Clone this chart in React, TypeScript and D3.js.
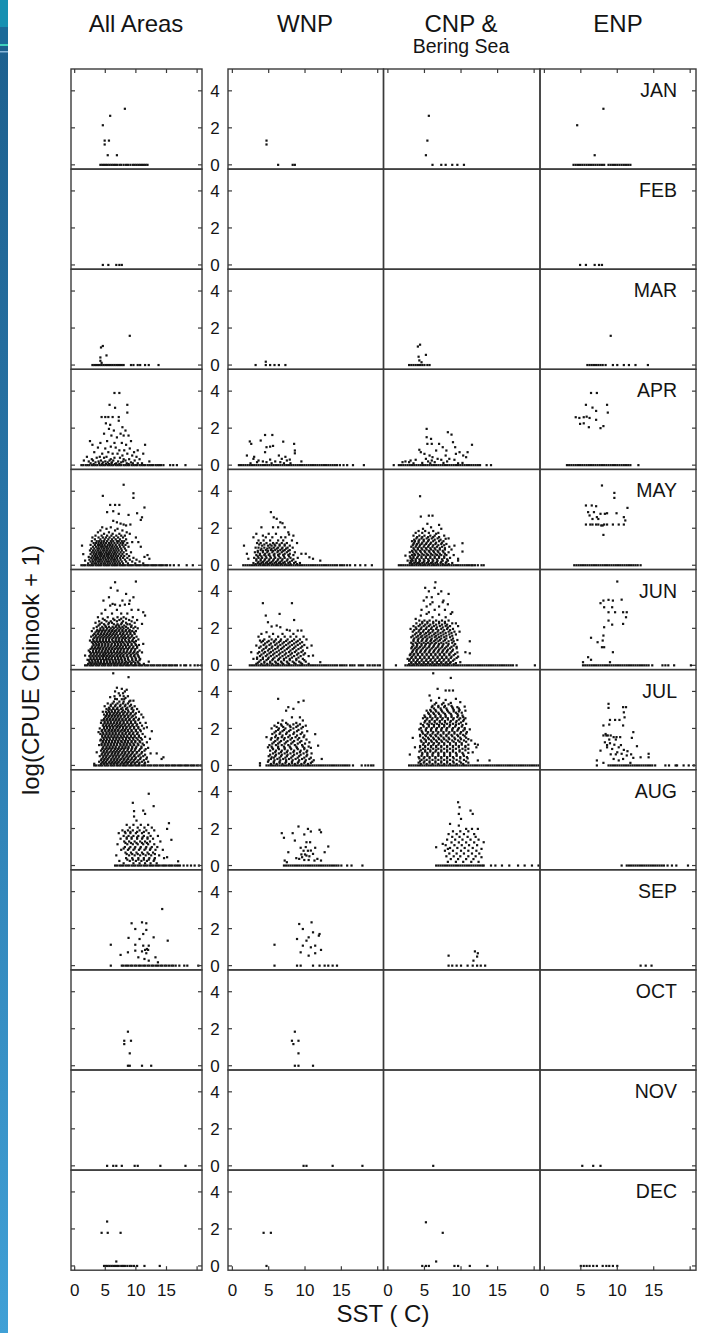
import React from "react";
import * as d3 from "d3";

// Column headings and row (month) labels
const AREAS = ["All Areas", "WNP", "CNP &", "ENP"];
const AREA_SUB = ["", "", "Bering Sea", ""];
const MONTHS = ["JAN", "FEB", "MAR", "APR", "MAY", "JUN", "JUL", "AUG", "SEP", "OCT", "NOV", "DEC"];
const X_TICKS = [0, 5, 10, 15, 20];
const X_TICK_LABELS = [0, 5, 10, 15];
const Y_TICKS = [0, 2, 4];

// Observations per panel, one string per month.
// Format: groups "logCPUE:sst sst sst ..." separated by ";".
const ALL_AREAS = [
  "0:4.2 4.5 4.8 5.1 5.4 5.7 6.0 6.3 6.6 6.9 7.3 7.6 8.0 8.4 8.7 9.1 9.5 9.8 10.1 10.4 10.7 11.0 11.3 11.6 11.9;0.52:5.4 6.9;1.1:4.9;1.31:4.9 5.6;2.14:4.6;2.65:5.8;3.03:8.2",
  "0:4.6 5.5 6.8 7.3 7.7",
  "0:2.9 3.2 3.5 3.8 4.1 4.4 4.7 5.0 5.3 5.6 5.9 6.2 6.5 6.8 7.1 7.4 7.7 8.0 9.2 9.6 10.3 10.7 11.5 12.1 13.7;0.12:4.4;0.23:4.2;0.41:4.2;0.52:5.2;0.95:4.3;1.03:4.6;1.58:9.0",
  "0:1.1 1.4 1.8 2.1 2.4 2.8 3.1 3.4 3.7 4.1 4.4 4.7 5.0 5.4 5.7 6.0 6.3 6.7 7.0 7.3 7.6 8.0 8.3 8.6 8.9 9.3 9.6 9.9 10.2 10.6 10.9 11.2 11.5 11.9 12.2 12.5 12.8 13.2 13.5 13.8 14.1 14.5 15.6 16.1 16.7 18.1;0.06:3.1 4.5 5.1 5.6 6.6 7.3 8.8;0.1:2.6 4.0 6.0 6.8 8.5 9.5 10.3 11.0;0.15:3.4 4.6 5.4 6.1 7.6 9.2;0.2:2.3 3.9 5.0 7.1 7.9 12.2;0.25:1.5 3.0 4.3 5.7 6.3 8.3 9.8;0.32:2.8 5.9 8.0 8.9 10.6;0.4:3.6 4.8 6.5 7.4;0.45:2.0 4.1 5.2 10.1;0.52:7.8 9.4;0.62:4.5 6.2 7.0 8.6 11.2;0.7:3.2 5.5 9.7;0.8:7.3 8.1 10.3;0.9:5.0 9.0;0.95:3.8 6.7;1.0:5.9;1.1:2.9 8.4 11.5;1.2:4.2 6.5 7.7;1.3:2.5 5.3 9.2;1.5:6.9;1.6:6.0 8.0 8.8;1.7:4.8 7.5;1.87:6.4 8.3;1.96:5.6;2.05:7.8;2.18:5.8;2.26:5.1;2.4:7.2;2.6:4.4 5.0 5.5 6.2 7.2;2.84:8.6;3.1:6.6;3.26:5.7 8.6;3.9:6.5 7.3",
  "0:1.1 1.4 1.7 2.1 2.4 2.7 3.0 3.4 3.7 4.0 4.3 4.7 5.0 5.3 5.6 6.0 6.3 6.6 6.9 7.3 7.6 7.9 8.2 8.6 8.9 9.2 9.5 9.9 10.2 10.5 10.8 11.2 11.5 11.8 12.1 12.5 12.8 13.1 13.4 13.8 14.1 14.4 14.8 15.1 15.6 16.2 17.0 18.3 19.3;0.1:2.2 2.8 3.2 3.5 3.9 4.3 4.7 5.0 5.4 5.8 6.2 6.6 7.0 7.4 7.9 8.7 9.9 11.2;0.2:2.6 3.0 3.4 3.8 4.1 4.5 4.9 5.3 5.6 6.0 6.4 6.8 7.2 7.7 8.4 9.4 10.6;0.25:1.7;0.3:2.4 2.9 3.3 3.6 4.0 4.3 4.7 5.1 5.5 5.9 6.3 6.6 7.0 7.5 8.2 9.0 10.1;0.35:12.2;0.4:2.7 3.1 3.5 3.8 4.2 4.6 5.0 5.4 5.7 6.1 6.5 6.9 7.4 7.9 8.6 9.6;0.45:2.3 11.4;0.5:2.9 3.3 3.7 4.1 4.4 4.8 5.2 5.5 5.9 6.3 6.7 7.1 7.6 8.1 8.9;0.55:11.9;0.6:1.4 2.6 3.1 3.5 3.9 4.2 4.5 4.9 5.3 5.6 6.0 6.4 6.8 7.3 7.8 8.5;0.7:2.8 3.2 3.6 4.0 4.3 4.7 5.1 5.5 5.8 6.2 6.6 7.0 7.5 8.0 9.2;0.8:2.5 3.0 3.4 3.8 4.2 4.6 4.9 5.3 5.7 6.0 6.4 6.8 7.2 7.7 8.4;0.9:2.7 3.2 3.7 4.0 4.4 4.8 5.2 5.5 5.9 6.3 6.7 7.1 7.6 8.2;1.0:3.0 3.5 3.9 4.3 4.6 5.0 5.3 5.7 6.1 6.5 6.9 7.4 8.0 8.8 10.8;1.06:1.2;1.1:2.6 3.3 3.8 4.1 4.5 4.9 5.4 5.8 6.2 6.7 7.3 7.8 8.3;1.2:3.1 3.5 3.9 4.3 4.7 5.1 5.6 6.0 6.5 7.0 7.5 7.9 8.6;1.25:9.4 10.4;1.3:2.8 3.6 4.0 4.4 4.8 5.3 5.9 6.3 6.9 7.2 7.7 8.1;1.4:3.3 4.2 4.9 5.5 6.1 6.7 7.4 8.4;1.5:2.9 3.9 4.6 5.1 5.7 6.4 7.1 7.9 10.0;1.6:3.4 4.4 5.3 6.0 6.8 7.6 8.2;1.7:4.8 6.2 7.3 9.0;1.78:3.8 5.6 8.5;1.88:4.2 6.6 7.8;1.97:5.2 7.0;2.05:4.5 5.9;2.15:8.4;2.2:8.0 9.1;2.25:7.5;2.32:6.9;2.4:6.3;2.45:10.8;2.59:11.0;2.72:8.8;2.78:7.2;2.81:10.2;2.87:5.3;2.92:6.3;3.12:11.4;3.26:5.8 6.6 7.3;3.64:9.6;3.75:4.6;3.89:9.6;4.35:8.0",
  "0:1.7 2.0 2.4 2.7 3.0 3.4 3.7 4.0 4.4 4.7 5.0 5.4 5.7 6.0 6.4 6.7 7.0 7.4 7.7 8.0 8.4 8.7 9.0 9.4 9.7 10.0 10.4 10.7 11.0 11.4 11.7 12.0 12.4 12.7 13.0 13.4 13.7 14.0 14.4 14.7 15.0 15.4 15.7 16.0 16.4 16.7 17.3 17.9 18.2 18.9 19.6 20.1 20.7;0.08:2.2 2.7 3.2 3.6 4.1 4.6 5.0 5.5 6.0 6.5 7.0 7.5 8.1 8.6 9.2 9.9 10.6 11.3;0.2:2.4 2.9 3.4 3.8 4.3 4.8 5.3 5.8 6.3 6.8 7.3 7.8 8.4 9.0 9.6 10.3 12.1;0.3:2.1;0.35:2.6 3.1 3.6 4.1 4.6 5.1 5.5 6.0 6.6 7.1 7.6 8.2 8.7 9.4 10.0 10.7;0.5:2.4 2.9 3.4 3.9 4.4 4.8 5.3 5.8 6.3 6.9 7.4 7.9 8.5 9.1 9.7 10.4;0.53:1.7;0.65:2.7 3.2 3.7 4.2 4.7 5.1 5.6 6.1 6.7 7.2 7.7 8.3 8.9 9.5 10.1;0.7:11.0;0.8:2.3 3.0 3.5 4.0 4.5 5.0 5.4 5.9 6.4 7.0 7.5 8.0 8.6 9.2 9.8 10.6;0.95:2.8 3.3 3.8 4.2 4.7 5.2 5.7 6.2 6.8 7.3 7.8 8.4 8.9 9.5 10.2;1.1:3.1 3.6 4.0 4.5 5.0 5.5 6.0 6.6 7.1 7.6 8.2 8.7 9.3 10.0 10.5;1.16:11.2;1.25:2.8 3.3 3.8 4.3 4.8 5.3 5.8 6.4 6.9 7.4 7.9 8.5 9.0 9.7;1.34:2.5;1.4:3.0 3.6 4.1 4.6 5.1 5.6 6.1 6.7 7.2 7.7 8.2 8.8 9.5 10.4;1.55:2.7 3.4 3.9 4.4 4.9 5.4 5.9 6.5 7.0 7.6 8.1 8.7 9.3 10.1;1.7:3.2 3.8 4.3 4.8 5.3 5.8 6.3 6.8 7.4 7.9 8.5 9.1 9.8;1.85:2.8 3.6 4.0 4.5 5.0 5.6 6.1 6.6 7.2 7.8 8.3 8.9 9.4 10.0;2.0:3.1 4.2 4.7 5.3 5.9 6.4 7.0 7.5 8.0 8.7 9.6 10.3;2.15:3.9 5.0 6.8 7.2 8.1 9.3;2.24:11.0;2.3:3.4 4.4 5.6 6.1 7.7 8.4 9.8;2.45:4.9 6.5 7.3 8.9 10.2;2.6:3.8 5.4 7.0 8.0 9.5;2.69:11.5;2.8:4.4 6.1 7.6 8.6;2.87:11.2;3.0:5.0 6.9 9.3 10.4;3.23:5.8 7.4;3.28:6.6 8.2;3.32:6.2 8.9;3.5:4.7 7.8 9.0;3.68:5.6 9.6;3.86:8.4;4.04:7.0;4.19:5.9;4.49:6.6;4.53:10.0;0.14:2.5 2.9 3.4 3.9 4.3 4.8 5.3 5.8 6.3 6.7 7.2 7.7 8.2 8.7 9.3 9.9 10.4;0.28:2.3 2.8 3.3 3.8 4.3 4.8 5.2 5.7 6.2 6.7 7.2 7.7 8.2 8.8 9.4 10.0 10.6;0.43:2.6 3.1 3.6 4.1 4.6 5.1 5.6 6.1 6.6 7.1 7.6 8.1 8.7 9.3 9.9 10.5;0.58:2.6 3.1 3.6 4.1 4.6 5.0 5.5 6.0 6.5 7.0 7.5 8.0 8.6 9.2 9.8 10.3;0.72:2.5 3.0 3.5 3.9 4.4 4.9 5.4 5.9 6.4 6.9 7.4 8.0 8.5 9.1 9.7 10.3;0.88:2.6 3.1 3.6 4.1 4.6 5.1 5.6 6.1 6.6 7.1 7.6 8.1 8.7 9.3 9.9;1.02:2.9 3.4 3.9 4.4 4.9 5.4 5.9 6.4 6.9 7.4 7.9 8.4 9.0 9.6 10.2;1.18:3.0 3.5 4.0 4.5 5.0 5.5 6.1 6.6 7.1 7.6 8.1 8.7 9.3 9.9;1.32:3.1 3.6 4.1 4.6 5.1 5.6 6.2 6.7 7.2 7.7 8.3 8.9 9.4 10.0;1.48:3.2 3.7 4.2 4.7 5.2 5.7 6.3 6.8 7.3 7.9 8.4 9.0 9.7;1.62:3.0 3.5 4.1 4.6 5.1 5.6 6.1 6.6 7.1 7.7 8.2 8.8 9.4;1.78:3.4 3.9 4.4 4.9 5.4 5.9 6.4 6.9 7.5 8.0 8.6 9.1 9.7;1.92:3.7 4.2 4.7 5.2 5.7 6.2 6.8 7.3 7.8 8.4 9.0;2.08:3.6 4.5 5.1 5.6 6.2 6.7 7.3 7.8 8.4 9.2 9.9;2.22:4.1 4.8 5.5 6.4 7.0 7.6 8.6 9.0;2.38:4.0 5.2 5.9 6.9 7.9 9.3;2.52:4.6 6.3 7.6 8.4",
  "0:3.2 3.5 3.9 4.2 4.5 4.9 5.2 5.5 5.9 6.2 6.5 6.9 7.2 7.5 7.9 8.2 8.5 8.9 9.2 9.5 9.9 10.2 10.5 10.9 11.2 11.5 11.9 12.2 12.5 12.9 13.2 13.5 13.9 14.2 14.5 14.9 15.2 15.5 15.9 16.2 16.5 16.9 17.2 17.5 17.9 18.2 18.5 18.9 19.2 19.5 19.9 20.2 20.6;0.09:3.2 4.3 4.8 5.3 5.9 6.4 6.9 7.5 8.0 8.6 9.2 9.8 10.5 11.4;0.2:4.0 4.6 5.1 5.7 6.2 6.7 7.2 7.8 8.4 8.9 9.5 10.2 11.0 12.0;0.35:4.4 4.9 5.4 6.0 6.5 7.0 7.6 8.1 8.7 9.3 9.9 10.7 11.7 14.2;0.44:14.5;0.5:4.1 4.7 5.2 5.8 6.3 6.8 7.3 7.9 8.5 9.0 9.7 10.4 11.2;0.65:4.5 5.0 5.5 6.1 6.6 7.1 7.7 8.2 8.8 9.4 10.1 10.9 12.4 13.4;0.71:3.6;0.8:4.3 4.8 5.3 5.9 6.4 6.9 7.4 8.0 8.6 9.2 9.8 10.5 11.4;0.95:4.6 5.2 5.7 6.2 6.7 7.2 7.8 8.3 8.8 9.4 10.0 10.9 12.0;1.1:4.0 4.4 4.9 5.4 5.9 6.4 6.9 7.5 8.0 8.5 9.1 9.7 10.4 11.3;1.25:4.6 5.1 5.6 6.1 6.6 7.1 7.7 8.2 8.7 9.3 9.9 10.7 11.8;1.35:4.2;1.4:4.3 4.8 5.3 5.8 6.3 6.8 7.3 7.9 8.4 9.0 9.6 10.3 11.0;1.44:12.3;1.55:4.5 5.0 5.5 6.0 6.5 7.0 7.6 8.1 8.6 9.2 9.8 10.5 11.5;1.7:4.2 4.7 5.2 5.7 6.2 6.7 7.2 7.8 8.3 8.9 9.5 10.2 11.1;1.8:3.9;1.85:4.4 5.0 5.5 6.0 6.5 7.0 7.5 8.1 8.7 9.3 10.0 10.8 12.6;2.0:4.1 4.8 5.3 5.8 6.3 6.8 7.3 7.9 8.4 9.0 9.7 10.4 11.3;2.06:11.8;2.15:4.6 5.1 5.6 6.1 6.6 7.1 7.6 8.2 8.8 9.4 10.1 11.0;2.3:4.3 4.9 5.4 5.9 6.4 6.9 7.4 8.0 8.6 9.2 9.9 10.7 11.6;2.43:4.4;2.45:4.7 5.2 5.7 6.2 6.7 7.2 7.8 8.3 8.9 9.6 10.4;2.6:5.0 5.5 6.0 6.5 7.0 7.5 8.1 8.7 9.3 10.0 11.2;2.75:4.8 5.3 5.8 6.3 6.8 7.3 7.9 8.5 9.1 9.8 10.9;2.9:4.6 5.1 5.6 6.1 6.6 7.1 7.7 8.2 8.8 9.5 10.5;3.05:5.2 5.7 6.3 6.9 7.6 8.4 9.3 10.2;3.2:4.9 5.9 6.6 7.4 8.2 9.0 9.8;3.35:5.4 6.2 7.0 7.9 8.7;3.5:9.1 9.6;3.6:6.6;3.65:8.3;3.69:5.8;3.78:7.4;4.09:8.5;4.14:7.7;4.2:6.9;4.77:8.8;4.98:6.3;0.15:4.5 5.0 5.6 6.1 6.6 7.1 7.7 8.2 8.7 9.3 9.9 10.6 11.5;0.28:4.3 4.8 5.3 5.9 6.4 6.9 7.4 8.0 8.5 9.1 9.7 10.4 11.3;0.43:4.6 5.1 5.6 6.2 6.7 7.2 7.8 8.3 8.8 9.4 10.0 10.8 11.8;0.58:4.4 4.9 5.4 6.0 6.5 7.0 7.5 8.1 8.6 9.2 9.8 10.6 11.5;0.72:4.7 5.2 5.7 6.2 6.7 7.2 7.8 8.3 8.9 9.5 10.2 11.0;0.88:4.5 5.0 5.5 6.0 6.6 7.1 7.6 8.1 8.7 9.3 9.9 10.7 11.6;1.02:4.7 5.2 5.7 6.2 6.7 7.3 7.8 8.3 8.8 9.4 10.1 10.9;1.18:4.4 4.9 5.4 5.9 6.4 6.9 7.4 8.0 8.5 9.0 9.6 10.3 11.1;1.32:4.6 5.1 5.6 6.1 6.6 7.1 7.6 8.2 8.7 9.3 9.9 10.6;1.48:4.7 5.2 5.7 6.3 6.8 7.3 7.8 8.4 8.9 9.5 10.1 10.8;1.62:4.5 5.0 5.5 6.0 6.5 7.0 7.5 8.0 8.6 9.2 9.8 10.5;1.78:4.6 5.2 5.7 6.2 6.7 7.3 7.8 8.4 9.0 9.6 10.3;1.92:4.5 5.0 5.6 6.1 6.6 7.1 7.7 8.2 8.7 9.3 10.0 10.7;2.08:4.8 5.3 5.8 6.3 6.9 7.4 7.9 8.5 9.1 9.7 10.4;2.22:4.7 5.2 5.7 6.2 6.8 7.3 7.8 8.3 8.9 9.5 10.2;2.38:4.9 5.4 5.9 6.5 7.0 7.5 8.0 8.6 9.2 9.9;2.52:4.8 5.3 5.8 6.3 6.8 7.3 7.8 8.4 9.0 9.7 10.5;2.68:5.1 5.6 6.1 6.6 7.1 7.6 8.2 8.8 9.5;2.82:5.3 5.8 6.4 6.9 7.4 8.0 8.6 9.2 10.0;2.98:5.5 6.0 6.6 7.2 7.9 8.7 9.6;3.12:5.6 6.3 7.0 7.8 8.6 9.4;3.28:5.9 6.7 7.5 8.3 9.2;3.45:6.4 7.3 8.0 8.9;3.58:6.9 7.7 8.1;3.74:6.5 8.0 8.7;3.9:7.2 7.9;4.0:6.6 8.2",
  "0:6.6 6.9 7.3 7.6 7.9 8.3 8.6 8.9 9.3 9.6 9.9 10.3 10.6 10.9 11.3 11.6 11.9 12.3 12.6 12.9 13.3 13.6 13.9 14.3 14.6 14.9 15.3 15.6 15.9 16.3 16.6 16.9 17.2 17.8 18.4 19.0 19.6 20.3;0.12:8.0 9.6 10.6 11.5 12.4 13.4;0.23:16.9;0.25:7.3 9.0 10.0 10.9 11.8 12.9;0.4:8.4 9.4 10.4 11.3 12.2 13.1 14.6;0.45:15.1;0.55:6.8 8.9 9.8 10.7 11.6 12.5 13.8;0.7:8.3 9.2 10.1 11.0 11.9 12.8;0.85:7.6 8.7 9.6 10.5 11.4 12.3 13.2 14.4;1.0:8.2 9.1 9.9 10.8 11.7 12.6 13.5;1.15:7.0 8.6 9.5 10.3 11.2 12.0 13.0;1.3:8.1 8.9 9.8 10.7 11.5 12.3 14.0;1.39:15.8;1.45:7.5 8.5 9.3 10.2 11.0 11.9 12.8;1.6:8.0 8.8 9.6 10.4 11.3 12.4 13.6;1.75:7.2 8.3 9.1 10.0 11.0 12.1;1.9:7.8 8.7 9.5 10.6 11.7 13.0;1.98:15.1;2.05:9.0 10.3 11.4 12.6;2.2:8.5 9.6 10.8 12.0;2.29:15.4;2.43:10.1;2.65:9.7;2.79:11.5;2.94:9.7;2.97:11.2;3.21:12.9;3.39:9.5;3.88:12.1;0.32:8.6 9.5 10.4 11.3 12.1 13.0;0.62:8.5 9.4 10.3 11.2 12.1 13.1;0.92:8.0 8.9 9.8 10.7 11.6 12.4;1.22:8.3 9.2 10.1 11.0 11.8;1.52:8.5 9.3 10.2 11.1 11.9;1.82:8.2 9.1 10.2 11.3",
  "0:5.9 7.7 8.0 8.4 8.7 9.1 9.4 9.8 10.1 10.5 10.8 11.2 11.5 11.9 12.2 12.6 12.9 13.3 13.6 14.0 14.3 14.7 15.0 15.4 15.8 16.1 16.5 17.1 17.9 18.4 20.2;0.18:13.6;0.27:12.1;0.36:11.4;0.45:10.4 13.2;0.58:7.5;0.67:11.7;0.72:8.7;0.77:11.0;0.81:9.9;0.85:11.5 12.0;0.9:11.8;1.08:11.2 12.1;1.13:5.9 9.9;1.35:15.2;1.44:10.6;1.5:8.8;1.53:12.9;1.71:11.2;1.93:11.7;1.98:9.9;2.29:9.3 11.7;2.34:11.0;3.06:14.3",
  "0:8.7 9.0 11.0 12.5;0.67:9.0;1.17:8.1;1.35:8.1 9.2;1.84:8.7",
  "0:5.3 6.3 6.8 7.7 9.8 10.3 14.0 18.1",
  "0:4.8 5.1 5.4 5.7 6.0 6.3 6.6 6.9 7.2 7.6 7.9 8.2 8.6 9.0 9.3 9.7 10.2 11.4 13.9;0.24:6.8;1.79:4.4 5.4 7.5;2.4:5.3",
];

const WNP = [
  "0:6.3 8.3 8.6;1.1:4.7;1.31:4.7",
  "",
  "0:3.2 4.6 5.2 5.8 6.4 7.3;0.18:4.6",
  "0:0.9 1.2 1.5 1.8 2.1 2.4 2.7 3.0 3.3 3.6 3.9 4.2 4.5 4.8 5.1 5.4 5.7 6.0 6.3 6.6 6.9 7.2 7.5 7.8 8.1 8.4 8.7 9.0 9.3 9.6 9.9 10.2 10.5 10.8 11.1 11.4 11.7 12.0 12.3 12.6 12.9 13.2 13.5 13.8 14.1 14.4 14.8 15.3 15.8 16.6 18.1;0.1:2.5 5.4 7.1 8.0;0.16:3.4 4.7 6.6;0.2:4.2 5.9 9.5;0.25:3.6 7.5;0.3:5.2 7.9;0.34:2.9 6.8;0.45:3.0 7.3;0.52:2.0 6.4;0.64:8.6;0.7:4.5;0.79:8.6;0.97:4.7;1.0:5.2;1.04:5.6;1.15:2.6 8.5;1.27:7.0;1.28:2.4;1.33:3.9;1.63:4.5 5.5",
  "0:1.5 1.8 2.1 2.4 2.7 3.0 3.3 3.6 3.9 4.2 4.5 4.8 5.1 5.4 5.7 6.0 6.3 6.6 6.9 7.2 7.5 7.8 8.1 8.4 8.7 9.0 9.3 9.6 9.9 10.2 10.5 10.8 11.1 11.4 11.7 12.0 12.3 12.6 12.9 13.2 13.5 13.8 14.1 14.4 14.8 15.1 15.4 15.8 16.2 16.9 17.6 18.3 19.2;0.12:2.9 3.5 4.0 4.6 5.2 5.8 6.4 7.0 7.7 8.5 9.3;0.25:3.3 3.9 4.4 5.0 5.6 6.2 6.8 7.5 8.2 12.1;0.35:2.2 11.1;0.4:3.0 3.6 4.1 4.7 5.3 5.9 6.6 7.2 8.0 9.0;0.43:10.6;0.55:3.3 3.8 4.4 5.0 5.7 6.3 7.0 7.7 8.4;0.62:2.0 9.5 10.1;0.7:3.1 3.5 4.2 4.8 5.5 6.2 6.8 7.5 8.6;0.82:3.9 4.6 5.3 5.9 6.6 7.2 7.9;0.95:3.2 3.6 4.4 5.1 5.7 6.3 6.9 7.6 8.3;1.06:1.6 4.1 4.9 5.4 5.9 6.5 7.2 7.9;1.2:3.4 3.9 4.7 5.6 6.1 6.8 7.5 8.9;1.34:3.6 4.3 5.2 6.3 7.0 8.2;1.51:2.9 4.6 5.5 6.7 7.3;1.6:4.2 8.4;1.66:7.8;1.7:3.3 5.0 6.0;1.78:7.7;2.05:4.0 5.6 6.3 7.2;2.27:6.9;2.32:6.6;2.51:6.1;2.59:5.7;2.87:5.3;0.06:3.2 3.8 4.3 4.9 5.5 6.1 6.7 7.3 8.0 8.9;0.18:3.6 4.2 4.8 5.4 6.0 6.6 7.2 7.9 8.7;0.32:3.3 3.9 4.5 5.1 5.7 6.3 6.9 7.6 8.4;0.48:3.5 4.0 4.6 5.2 5.8 6.4 7.1 7.8;0.62:3.8 4.5 5.1 5.8 6.5 7.2 7.9;0.78:3.5 4.2 4.9 5.6 6.3 7.0 7.7;0.9:4.0 4.8 5.4 6.1 6.8 7.4;1.12:3.7 4.4 5.2 5.8 6.5 7.2",
  "0:2.4 2.7 3.0 3.3 3.6 3.9 4.2 4.5 4.8 5.1 5.4 5.7 6.0 6.3 6.6 6.9 7.2 7.5 7.8 8.1 8.4 8.7 9.0 9.3 9.6 9.9 10.2 10.5 10.8 11.1 11.4 11.7 12.0 12.3 12.6 12.9 13.2 13.5 13.8 14.1 14.4 14.8 15.1 15.4 15.7 16.2 16.5 16.8 17.4 17.7 18.0 18.6 18.9 19.3 19.6 20.0 20.3;0.08:3.3 4.0 4.8 5.5 6.3 7.0 7.8 8.7 9.6 10.5;0.17:12.1;0.2:3.7 4.4 5.2 5.9 6.7 7.5 8.3 9.2 10.1;0.35:2.9 3.4 4.2 4.9 5.6 6.4 7.1 7.9 8.8 9.7;0.5:3.8 4.6 5.3 6.1 6.9 7.7 8.5 9.4 10.5;0.53:11.1;0.65:3.5 4.3 5.1 5.8 6.6 7.4 8.2 9.1 10.0;0.71:2.6;0.8:4.1 4.9 5.6 6.4 7.2 8.0 8.8 9.7;0.95:3.7 4.6 5.4 6.2 6.9 7.7 8.5 9.4 10.3;1.07:3.3 10.9;1.1:4.3 5.1 5.9 6.6 7.4 8.2 9.0 9.9;1.25:4.0 4.8 5.7 6.4 7.1 7.9 8.8 9.6;1.34:3.8;1.4:4.4 5.4 6.0 6.7 7.6 8.5 9.3 10.2;1.55:3.6 5.1 6.3 7.2 8.0 8.8 9.8;1.7:4.0 5.6 6.9 8.4;1.79:4.7;1.88:7.9 9.0 9.5;1.92:7.5;2.06:6.6;2.1:5.4;2.15:6.1;2.33:4.9;2.45:8.5;2.69:4.6;2.78:6.5;3.36:4.2 8.2;0.14:3.5 4.4 5.2 6.0 6.8 7.6 8.5 9.4;0.28:3.9 4.7 5.5 6.3 7.1 7.9 8.8 9.9;0.42:3.4 4.2 5.0 5.8 6.6 7.4 8.2 9.1;0.58:4.0 4.8 5.6 6.4 7.2 8.0 8.9 9.8;0.72:3.7 4.5 5.3 6.1 6.9 7.8 8.6 9.5;0.88:4.3 5.1 5.9 6.7 7.5 8.3 9.1;1.02:3.9 4.7 5.5 6.3 7.1 7.9 8.7 9.6;1.18:4.5 5.3 6.1 6.9 7.7 8.5 9.3;1.32:4.2 5.0 5.8 6.6 7.4 8.2 9.0",
  "0:3.8 4.7 5.0 5.3 5.6 5.9 6.2 6.5 6.8 7.1 7.4 7.7 8.0 8.3 8.6 8.9 9.2 9.5 9.8 10.1 10.4 10.7 11.0 11.3 11.6 11.9 12.2 12.5 12.8 13.1 13.4 13.7 14.0 14.3 14.6 14.9 15.2 15.5 15.8 16.1 16.6 17.8 18.3 18.7 19.1 19.4;0.08:5.3 6.1 6.9 7.8 8.6 9.5 10.4;0.12:3.8;0.2:4.9 5.7 6.5 7.4 8.2 9.1 10.0 11.0;0.35:5.3 6.2 7.0 7.8 8.7 9.6 10.6 12.3;0.44:5.4;0.5:5.0 5.9 6.7 7.5 8.3 9.2 10.2;0.65:5.6 6.4 7.2 8.0 8.9 9.8 10.9;0.8:5.2 6.0 6.8 7.6 8.5 9.4 10.3;0.95:5.5 6.3 7.2 8.0 8.9 9.9 10.8;0.98:4.9;1.07:11.8;1.1:5.1 6.0 6.8 7.7 8.6 9.6;1.25:5.7 6.5 7.4 8.3 9.3 10.6;1.4:5.3 6.2 7.1 8.0 9.0 10.2;1.53:4.7 5.9 6.8 7.7 8.7 9.8;1.69:11.4;1.7:5.5 6.5 7.4 8.4 9.4;1.85:6.0 6.9 7.8 8.9 10.3;2.0:5.4 6.4 7.3 8.4 9.5;2.15:5.8 6.8 7.9 9.0 10.1;2.3:6.3 7.4 8.8;2.43:6.9 9.7;2.6:8.2 9.3;2.96:7.4;3.06:8.4;3.15:7.7;3.42:9.1;3.5:9.8;3.6:6.3;0.14:5.7 6.5 7.3 8.2 9.0 9.9 10.8;0.28:5.0 5.8 6.6 7.4 8.3 9.2 10.1 11.2;0.42:5.7 6.5 7.3 8.1 9.0 9.9 10.8;0.58:5.2 6.0 6.8 7.6 8.5 9.4 10.3;0.72:5.9 6.7 7.5 8.4 9.3 10.2;0.88:5.6 6.4 7.2 8.1 9.0 9.9;1.02:5.4 6.3 7.1 7.9 8.8 9.7 10.5;1.18:5.5 6.3 7.2 8.1 9.0 10.0;1.32:5.9 6.7 7.6 8.5 9.5;1.48:5.4 6.3 7.2 8.2 9.2;1.62:6.0 6.9 7.9 8.9 9.9;1.78:5.8 6.6 7.5 8.5 9.6;1.92:6.3 7.1 8.0 9.1;2.08:6.1 7.0 8.0 8.8 9.7;2.22:6.7 7.6 8.4 9.3",
  "0:7.1 7.4 7.7 8.0 8.3 8.6 8.9 9.2 9.5 9.8 10.1 10.4 10.7 11.0 11.3 11.6 11.9 12.2 12.5 12.8 13.1 13.4 13.7 14.0 14.3 14.6 15.0 15.8 16.4 17.9;0.18:7.5;0.27:7.2 11.3 12.2;0.3:9.9 10.5;0.36:9.2 11.7;0.4:8.8;0.45:9.6;0.5:10.6;0.54:10.2;0.6:9.5 10.0;0.63:11.1;0.72:7.7 12.7;0.8:9.8 10.4;0.81:10.8;0.96:9.4 11.4;1.0:10.1;1.03:13.2;1.26:10.2 10.7;1.35:8.6;1.5:7.1;1.68:9.9;1.75:6.8 8.3;1.8:12.2;1.84:10.8;1.93:12.0;1.98:10.4;2.11:9.1",
  "0:5.8 8.9 9.4 11.1 12.0 12.7 13.2 13.8 14.4;0.54:10.5;0.67:11.4;0.72:9.4;0.85:12.2;0.99:10.8;1.08:9.7 11.4;1.13:5.8;1.35:10.2;1.44:8.9;1.53:10.5;1.62:11.9;1.71:12.0;1.8:11.1;1.98:9.7;2.25:9.2;2.34:10.9",
  "0:8.6 9.1 11.1;0.67:9.1;1.17:8.4;1.35:8.2 9.1;1.84:8.6",
  "0:9.8 10.2 13.8 17.9",
  "0:4.7;1.79:4.3 5.3",
];

const CNP_BERING = [
  "0:6.1 7.3 7.9 8.8 9.5 10.4;0.52:5.2;1.31:5.4;2.65:5.6",
  "",
  "0:2.9 3.2 3.5 3.8 4.1 4.4 4.7 5.0 5.4 5.7;0.15:4.6;0.25:4.3;0.45:4.2;0.55:5.2;1.0:4.1;1.1:4.4",
  "0:0.8 1.5 1.8 2.1 2.4 2.7 3.0 3.3 3.6 3.9 4.2 4.5 4.8 5.1 5.4 5.7 6.0 6.3 6.6 6.9 7.2 7.5 7.8 8.1 8.4 8.7 9.0 9.3 9.6 9.9 10.2 10.5 10.8 11.1 11.4 11.7 12.0 12.3 12.6 13.5 14.1;0.1:3.5 5.8 9.6;0.12:4.7 7.6 10.2;0.16:2.0 2.9 6.4;0.2:2.4 5.5 8.1;0.25:3.1 6.0;0.29:3.8 7.3 9.1;0.34:5.2 6.8 8.4;0.43:6.1 10.7;0.52:5.7 7.9 10.3;0.61:5.0 9.3;0.7:4.5 9.8 10.9;0.79:6.6 8.0;0.83:4.3;0.97:7.5 9.2;1.1:11.5;1.15:5.4 6.0 7.0;1.24:8.9;1.42:5.9;1.51:5.3;1.65:8.7;1.78:8.2;1.96:5.3",
  "0:1.5 1.8 2.1 2.4 2.7 3.0 3.3 3.6 3.9 4.2 4.5 4.8 5.1 5.4 5.7 6.0 6.3 6.6 6.9 7.2 7.5 7.8 8.1 8.4 8.7 9.0 9.3 9.6 9.9 10.2 10.5 10.8 11.1 11.4 11.6 11.9 12.3 12.8 13.1;0.12:3.0 3.6 4.1 4.7 5.3 5.9 6.5 7.2 7.9 8.8;0.25:2.7 3.1 3.4 3.8 4.4 5.0 5.6 6.2 6.8 7.5 8.2 9.6;0.35:9.6;0.4:3.1 3.5 4.0 4.6 5.2 5.8 6.4 7.0 7.7 8.5;0.52:2.4;0.55:3.3 3.7 4.3 4.9 5.5 6.1 6.7 7.3 8.0 9.0;0.7:3.0 3.4 3.9 4.5 5.1 5.7 6.3 6.9 7.6 8.3;0.74:10.2;0.85:3.6 4.1 4.7 5.3 5.9 6.5 7.1 7.8 8.7;1.0:3.2 3.8 4.3 4.9 5.5 6.1 6.7 7.4 8.4;1.06:9.1;1.15:3.5 4.0 4.6 5.2 5.8 6.5 7.3 8.0;1.19:10.2;1.3:3.3 3.7 4.2 4.9 5.5 6.2 7.0 7.6;1.43:7.9;1.45:3.9 4.6 5.3 6.0 6.8 8.3;1.6:3.5 4.3 5.0 5.8 6.4 7.7;1.7:6.6;1.75:3.8 4.7 5.6 6.9;1.85:4.2 5.1 6.2;1.97:4.8 7.3;2.05:5.9;2.18:7.0;2.24:5.4;2.63:4.5;2.68:5.6 6.1;3.73:4.4;0.06:3.3 3.9 4.4 5.0 5.6 6.2 6.8 7.5 8.3;0.18:3.2 3.8 4.3 4.9 5.5 6.1 6.7 7.3 8.0;0.32:3.3 3.8 4.3 4.9 5.5 6.1 6.7 7.4 8.1;0.48:3.0 3.5 4.1 4.6 5.2 5.8 6.4 7.0 7.7;0.62:3.6 4.1 4.7 5.3 5.9 6.5 7.1 7.8;0.78:3.3 3.8 4.4 5.0 5.6 6.2 6.8 7.5;0.92:3.5 4.1 4.6 5.2 5.8 6.4 7.1 7.8;1.08:3.4 3.9 4.4 5.0 5.6 6.2 6.9 7.7;1.22:3.6 4.2 4.7 5.3 5.9 6.6 7.4;1.38:3.6 4.3 4.9 5.6 6.4 7.2;1.52:4.0 4.7 5.5 6.2 7.0",
  "0:1.1 2.4 2.7 3.0 3.3 3.6 3.9 4.2 4.5 4.8 5.1 5.4 5.7 6.0 6.3 6.6 6.9 7.2 7.5 7.8 8.1 8.4 8.7 9.0 9.3 9.6 9.9 10.2 10.5 10.8 11.1 11.4 11.7 12.0 12.3 12.6 12.9 13.2 13.5 13.8 14.1 14.4 14.7 15.0 15.3 15.6 15.9 16.2 16.5 16.8 17.1 17.6 20.1;0.06:2.9 3.5 4.0 4.6 5.2 5.8 6.4 7.0 7.6 8.2 9.0;0.17:3.2 3.8 4.3 4.9 5.5 6.1 6.7 7.3 8.0 8.6 9.9;0.32:3.0 3.5 4.1 4.7 5.3 5.9 6.5 7.1 7.7 8.3 9.1;0.35:2.7;0.47:3.3 3.8 4.4 5.0 5.6 6.2 6.8 7.4 8.0 8.7 9.6;0.62:3.1 3.6 4.1 4.7 5.3 5.9 6.5 7.1 7.7 8.4 9.2;0.65:11.2;0.71:10.6;0.77:3.4 3.9 4.5 5.1 5.7 6.3 6.9 7.5 8.1 8.8;0.92:3.2 3.7 4.2 4.8 5.4 6.0 6.6 7.2 7.8 8.5 9.4;1.07:3.5 4.0 4.6 5.1 5.7 6.3 6.9 7.5 8.2 9.0;1.22:3.2 3.8 4.3 4.9 5.5 6.0 6.6 7.3 8.0 8.8;1.3:11.2;1.37:3.5 4.1 4.7 5.3 5.9 6.5 7.1 7.8 8.7 9.5;1.52:3.2 3.9 4.5 5.1 5.7 6.4 7.0 7.7 8.5;1.67:3.7 4.4 5.0 5.6 6.3 6.9 7.6 8.4 9.3;1.82:3.4 4.2 4.8 5.5 6.1 6.8 7.5 8.3 9.1 9.8;1.97:3.1 3.9 4.5 5.2 5.9 6.6 7.3 8.1 8.9;2.12:3.5 4.2 4.9 5.6 6.3 7.1 7.9 8.5 9.6;2.27:3.9 4.7 5.4 6.2 7.0 7.8 8.8 9.3;2.42:4.3 5.0 5.7 6.6 7.4 8.3;2.51:3.8;2.6:6.1 7.9;2.69:4.5;2.74:7.0;2.78:5.3 8.6;2.87:5.6 8.8;3.0:4.6 6.4 7.8;3.18:5.3 7.0;3.3:5.8 8.2;3.41:6.1 7.5;3.5:4.9 7.6;3.68:5.3 6.0;3.86:6.9 8.3;4.0:5.6 7.3;4.19:5.1 6.4;4.49:6.5;0.12:3.2 3.8 4.3 4.9 5.5 6.1 6.7 7.3 7.9 8.5 9.3;0.25:2.9 3.5 4.0 4.6 5.2 5.8 6.4 7.0 7.6 8.3 8.9;0.4:3.2 3.8 4.4 5.0 5.6 6.2 6.8 7.4 8.0 8.6 9.4;0.55:3.0 3.5 4.1 4.7 5.3 5.9 6.5 7.1 7.7 8.4 9.0;0.7:3.3 3.9 4.4 5.0 5.6 6.2 6.8 7.4 8.0 8.6 9.5;0.85:3.5 4.0 4.6 5.2 5.8 6.4 7.0 7.6 8.2 8.9;1.0:3.3 3.9 4.4 5.0 5.6 6.2 6.8 7.4 8.0 8.7 9.4;1.15:3.4 4.0 4.6 5.2 5.8 6.4 7.0 7.6 8.3 9.2;1.3:3.5 4.1 4.6 5.2 5.8 6.3 6.9 7.6 8.3 9.0;1.45:3.6 4.2 4.8 5.4 6.0 6.7 7.3 8.0 8.9;1.6:3.4 4.1 4.7 5.3 6.0 6.6 7.3 8.0 8.8;1.75:3.9 4.5 5.2 5.8 6.5 7.2 7.9 8.7;1.9:3.6 4.3 4.9 5.6 6.2 6.9 7.7 8.5;2.05:3.8 4.6 5.3 6.0 6.7 7.5 8.2;2.2:4.4 5.1 5.8 6.6 7.4 8.1;2.35:4.7 5.4 6.2 7.0 7.8",
  "0:2.9 3.2 3.5 3.8 4.1 4.4 4.7 5.0 5.3 5.6 5.9 6.2 6.5 6.8 7.1 7.4 7.7 8.0 8.3 8.6 8.9 9.2 9.5 9.8 10.1 10.4 10.7 11.0 11.3 11.6 11.9 12.2 12.5 12.8 13.1 13.4 13.7 14.0 14.3 14.6 14.9 15.2 15.5 15.8 16.1 16.4 16.7 17.0 17.3 17.6 17.9 18.2 18.5 18.8 19.1 19.4 19.7 20.0 20.3 20.6;0.15:4.2 4.9 5.7 6.5 7.3 8.1 9.0 10.0 11.0;0.27:12.3 13.9;0.3:4.6 5.3 6.1 6.9 7.7 8.5 9.4 10.4;0.45:4.2 5.0 5.7 6.5 7.3 8.1 8.9 9.9 10.8;0.59:3.0;0.6:4.7 5.4 6.1 6.9 7.7 8.5 9.4 10.3;0.71:11.6;0.75:4.3 5.1 5.8 6.5 7.3 8.1 8.9 9.8;0.9:4.8 5.5 6.2 6.9 7.7 8.5 9.3 10.2 11.0;0.98:3.7 12.1;1.05:4.4 5.1 5.9 6.6 7.3 8.1 8.9 9.7 10.6;1.12:12.3;1.17:11.9;1.2:4.9 5.6 6.3 7.0 7.7 8.5 9.3 10.1;1.35:4.5 5.2 5.9 6.6 7.3 8.0 8.8 9.6 10.4 11.4;1.49:3.4;1.5:4.8 5.5 6.2 6.9 7.6 8.3 9.1 9.9 10.7;1.65:4.4 5.1 5.8 6.5 7.2 8.0 8.7 9.5 10.3;1.8:4.7 5.5 6.2 6.9 7.6 8.4 9.1 10.0 10.8;1.95:4.3 5.2 5.9 6.6 7.3 8.0 8.8 9.6 10.5 11.2;2.1:4.9 5.6 6.3 7.0 7.7 8.4 9.2 10.1;2.25:4.5 5.4 6.0 6.7 7.4 8.1 8.9 9.7 10.7;2.4:5.1 5.7 6.4 7.1 7.8 8.6 9.4 10.3;2.55:4.8 5.4 6.1 6.8 7.5 8.2 9.0 9.9 10.6;2.7:5.0 5.8 6.5 7.2 7.9 8.7 9.6 10.2;2.85:5.5 6.2 6.9 7.6 8.4 9.3 10.1;2.96:5.3 10.6;3.0:5.8 6.5 7.3 8.1 9.0 9.8;3.15:6.0 6.9 7.7 8.8 9.5;3.18:10.5;3.3:6.4 7.4 8.3;3.42:9.9;3.51:5.9;3.54:7.9;3.6:9.3;3.65:7.0;3.78:5.7;4.05:7.9 8.4 8.9;4.14:6.8;4.73:8.6;4.98:6.2;0.08:4.5 5.3 6.1 6.9 7.7 8.5 9.4 10.3;0.22:4.4 5.0 5.7 6.5 7.3 8.1 8.9 9.8 10.7;0.38:4.3 4.9 5.7 6.5 7.3 8.1 9.0 9.9 10.9;0.52:4.6 5.4 6.1 6.9 7.7 8.5 9.4 10.4;0.68:4.7 5.4 6.2 6.9 7.7 8.5 9.3 10.2 11.0;0.82:4.5 5.1 5.8 6.6 7.3 8.1 8.9 9.8 10.6;0.98:4.4 5.1 5.9 6.6 7.3 8.1 8.9 9.7 10.6;1.12:4.8 5.5 6.2 6.9 7.7 8.5 9.3 10.1 11.0;1.28:4.6 5.2 6.0 6.7 7.4 8.2 9.0 9.8 10.7;1.42:5.0 5.6 6.3 7.0 7.7 8.4 9.2 10.0 11.0;1.58:4.4 5.2 5.9 6.6 7.3 8.0 8.8 9.6 10.5;1.72:4.8 5.4 6.1 6.8 7.6 8.3 9.1 9.9 10.7;1.88:4.6 5.2 5.9 6.6 7.3 8.0 8.8 9.5 10.3;2.02:4.5 5.3 6.0 6.7 7.4 8.1 8.9 9.7 10.5;2.18:4.8 5.6 6.3 7.0 7.7 8.5 9.3 10.2;2.32:5.0 5.7 6.4 7.1 7.8 8.5 9.3 10.0;2.48:5.3 6.0 6.7 7.4 8.2 8.9 9.7 10.4;2.62:5.1 5.8 6.5 7.2 7.9 8.7 9.5 10.3;2.78:5.6 6.3 7.0 7.8 8.6 9.5;2.92:5.9 6.6 7.4 8.2 9.0 9.7;3.08:6.3 7.2 8.0 8.9 9.7;3.22:6.1 6.9 7.8 8.7;3.38:6.6 7.6 8.6",
  "0:6.6 6.9 7.2 7.5 7.8 8.1 8.4 8.7 9.0 9.3 9.6 9.9 10.2 10.5 10.8 11.1 11.4 11.7 12.0 12.3 12.6 12.9 13.1 14.1 14.7 15.6 16.6 17.8 18.7 19.7 20.6;0.2:8.2 9.3 10.3 11.4 12.4;0.35:8.6 9.6 10.7 11.7;0.45:12.8;0.5:8.0 9.0 9.9 11.0 12.0;0.65:8.4 9.4 10.4 11.5 12.5;0.8:7.8 8.9 10.0 11.0 12.1;0.9:8.2 12.8;0.95:8.5 9.5 10.5 11.6;0.99:6.6;1.1:7.9 9.1 10.1 11.1 12.2;1.17:7.5;1.25:8.7 9.7 10.7 11.8;1.26:13.1;1.4:8.1 9.2 10.2 11.3 12.4;1.55:8.8 9.8 10.9 12.0;1.7:8.3 9.4 10.4 11.8;1.85:8.9 9.9 11.0;1.98:10.7 11.5 12.3;2.16:9.7;2.25:8.5;2.52:10.0;2.79:9.7 11.6;2.97:11.3;3.15:9.8;3.42:9.6",
  "0:8.3 8.8 9.4 10.0 10.9 11.6 12.2 12.7 13.3;0.27:11.7;0.49:12.2;0.54:8.3;0.67:12.3;0.77:11.9",
  "",
  "0:6.2",
  "0:4.7 5.2 5.6 9.1 9.6 11.2 13.6;0.24:6.6;1.79:7.5;2.36:5.2",
];

const ENP = [
  "0:4.0 4.3 4.6 4.9 5.2 5.5 5.8 6.1 6.4 6.7 7.0 7.3 7.6 7.9 8.2 8.8 9.1 9.4 9.7 10.0 10.3 10.6 10.9 11.2 11.5 11.8;0.52:6.9;2.14:4.5;3.03:8.1",
  "0:4.9 5.7 6.9 7.5 7.9",
  "0:5.9 6.2 6.5 6.8 7.1 7.4 7.7 8.0 8.4 9.4 10.0 10.9 11.6 12.5 14.2;1.58:9.1",
  "0:3.1 3.4 3.7 4.0 4.3 4.6 4.9 5.2 5.5 5.8 6.1 6.4 6.7 7.0 7.3 7.6 7.9 8.2 8.5 8.8 9.1 9.4 9.7 10.0 10.3 10.6 10.9 11.2 11.5 11.8 12.9;2.0:7.7;2.05:6.1;2.11:8.1;2.23:4.9;2.26:5.4;2.45:7.1;2.55:4.8 6.2;2.59:4.3 5.4;2.62:5.8;2.84:8.7;2.93:7.1;3.11:6.6;3.26:5.7 8.6;3.9:6.4 7.2",
  "0:4.1 4.4 4.7 5.0 5.3 5.6 5.9 6.2 6.5 6.8 7.1 7.4 7.7 8.0 8.3 8.6 8.9 9.2 9.5 9.8 10.1 10.4 10.7 11.0 11.3 11.6 11.9 12.2 12.5 12.8 13.2;1.64:8.1;2.15:7.8 8.0;2.2:5.7 6.3 6.6 7.1 7.4 8.2 8.6 9.4 10.2 10.9;2.42:11.1;2.5:6.6 7.4;2.6:7.2 10.9;2.69:6.2;2.78:7.7 8.3;2.81:8.6 9.9;2.87:6.0 6.8;3.1:11.4;3.19:7.1;3.23:5.7 6.5;3.64:9.6;3.91:9.6;4.31:7.9",
  "0:5.3 5.6 5.9 6.2 6.5 6.8 7.1 7.4 7.7 8.0 8.3 8.6 8.9 9.2 9.5 9.8 10.1 10.4 10.7 11.0 11.3 11.6 11.9 12.2 12.5 12.8 13.1 13.4 13.7 14.0 14.3 14.8 16.2 16.6 17.0 17.8 20.1;0.17:5.3 9.0;0.3:6.4;0.44:6.0;0.71:9.4;0.98:7.9 8.2;1.25:7.3;1.34:8.0;1.49:6.4;1.61:8.1;2.06:8.2;2.2:9.3;2.24:10.8;2.42:8.8;2.6:11.2;2.87:8.8 9.7 10.8 11.3;3.14:8.2 9.3;3.36:7.7;3.5:8.1 9.4;3.54:8.8;3.55:10.6;4.53:10.0",
  "0:7.2 8.8 9.1 9.4 9.7 10.0 10.3 10.6 10.9 11.2 11.5 11.8 12.1 12.4 12.7 13.0 13.3 13.6 13.9 14.2 14.5 14.8 15.2 16.6 17.1 18.0 18.2 19.1 19.8 20.5;0.14:8.1 11.8;0.27:7.2 10.2;0.35:9.5 10.8;0.41:12.2;0.44:13.2 14.3;0.54:11.3;0.6:9.1 9.8 11.9;0.63:10.6 14.3;0.71:10.0;0.77:11.4;0.8:7.7;0.84:10.9;0.89:9.3;0.98:8.6 10.2;1.04:12.7;1.1:8.6 10.5;1.12:9.6;1.2:9.0;1.25:8.3;1.4:8.9 9.8;1.49:12.0;1.53:9.5 9.9 10.4;1.62:8.1 8.5 8.7 9.1;1.7:8.4;1.8:12.2;2.16:8.1 10.8;2.21:8.9;2.46:9.0 9.7 10.3;2.6:11.0;2.87:10.9;3.11:8.8;3.15:10.8 11.2;3.33:8.8",
  "0:10.6 11.3 11.6 11.9 12.2 12.5 12.8 13.1 13.4 13.7 14.0 14.3 14.6 14.9 15.2 15.5 15.8 16.1 16.4 16.9 17.5 18.1 19.7",
  "0:13.2 13.9 14.7",
  "",
  "0:5.2 6.7 7.7",
  "0:5.0 5.4 5.8 6.2 6.7 7.2 8.0 8.5 8.9 9.4 10.0",
];

const PANELS = [ALL_AREAS, WNP, CNP_BERING, ENP];

// Turn a panel string into [sst, logCpue] pairs
function parsePanel(spec: string): [number, number][] {
  if (!spec) return [];
  const out: [number, number][] = [];
  for (const group of spec.split(";")) {
    const [yStr, xStr] = group.split(":");
    const y = +yStr;
    for (const x of xStr.trim().split(/\s+/)) out.push([+x, y]);
  }
  return out;
}

// Page geometry
const W = 703;
const H = 1333;
const TOP = 69;
const ROW_H = 100.1;
const N_ROWS = 12;
const BOTTOM = TOP + N_ROWS * ROW_H;
const COLS: [number, number][] = [
  [71, 202],
  [228, 383.5],
  [383.5, 540],
  [540, 696],
];
const X_DOMAIN: [number, number] = [-0.6, 20.8];
const Y_DOMAIN: [number, number] = [-0.23, 5.18];
const FONT = "'Liberation Sans', Arial, Helvetica, sans-serif";
const INK = "#141414";
const FRAME = "#3a3a3a";
const DOT = 2.2;
const TICK = 4;

export default function App() {
  const xScales = COLS.map(([a, b]) => d3.scaleLinear().domain(X_DOMAIN).range([a, b]));
  const yScales = d3.range(N_ROWS).map((r) =>
    d3.scaleLinear().domain(Y_DOMAIN).range([TOP + (r + 1) * ROW_H, TOP + r * ROW_H])
  );
  const headerX = [136, 305, 461, 618];

  return (
    <svg
      width={W}
      height={H}
      viewBox={`0 0 ${W} ${H}`}
      style={{ position: "absolute", left: 0, top: 0, background: "#fff", display: "block" }}
      fontFamily={FONT}
    >
      <defs>
        <linearGradient id="strip" x1="0" y1="0" x2="0" y2="1">
          <stop offset="0" stopColor="#1c5e8c" />
          <stop offset="0.45" stopColor="#2a78ab" />
          <stop offset="1" stopColor="#40a0d6" />
        </linearGradient>
      </defs>
      <rect x={0} y={0} width={W} height={H} fill="#fff" />

      {/* left decorative strip */}
      <rect x={0} y={0} width={8} height={H} fill="url(#strip)" />
      <rect x={0} y={0} width={8} height={27} fill="#1690b2" />
      <rect x={0} y={27} width={8} height={17} fill="#1b6a99" />
      <rect x={0} y={44} width={8} height={2} fill="#3fd0bc" />
      <rect x={0} y={51} width={8} height={1.5} fill="#8ab8da" />

      {/* column headings */}
      {AREAS.map((t, i) => (
        <text key={t} x={headerX[i]} y={32} textAnchor="middle" fontSize={24} fill={INK}>
          {t}
        </text>
      ))}
      {AREA_SUB.map((t, i) =>
        t ? (
          <text key={t} x={headerX[i]} y={53} textAnchor="middle" fontSize={19.5} fill={INK}>
            {t}
          </text>
        ) : null
      )}

      {/* panels */}
      {PANELS.map((months, c) =>
        months.map((spec, r) => {
          const xs = xScales[c];
          const ys = yScales[r];
          const pts = parsePanel(spec);
          return (
            <g key={`${c}-${r}`}>
              {pts.map(([x, y], k) => (
                <rect
                  key={k}
                  x={xs(x) - DOT / 2}
                  y={ys(y) - DOT / 2}
                  width={DOT}
                  height={DOT}
                  fill={INK}
                />
              ))}
            </g>
          );
        })
      )}

      {/* frames */}
      {COLS.map(([a, b], c) =>
        d3.range(N_ROWS).map((r) => (
          <rect
            key={`f${c}-${r}`}
            x={a}
            y={TOP + r * ROW_H}
            width={b - a}
            height={ROW_H}
            fill="none"
            stroke={FRAME}
            strokeWidth={1.4}
          />
        ))
      )}

      {/* top and bottom x ticks */}
      {xScales.map((xs, c) =>
        X_TICKS.map((t) => (
          <g key={`xt${c}-${t}`} stroke={FRAME} strokeWidth={1.2}>
            <line x1={xs(t)} x2={xs(t)} y1={TOP} y2={TOP + TICK} />
            <line x1={xs(t)} x2={xs(t)} y1={BOTTOM} y2={BOTTOM - TICK} />
          </g>
        ))
      )}

      {/* y ticks on the frame edges that carry them */}
      {yScales.map((ys, r) =>
        Y_TICKS.map((t) => {
          const y = ys(t);
          return (
            <g key={`yt${r}-${t}`} stroke={FRAME} strokeWidth={1.2}>
              <line x1={COLS[0][0]} x2={COLS[0][0] + TICK} y1={y} y2={y} />
              <line x1={COLS[0][1]} x2={COLS[0][1] - TICK} y1={y} y2={y} />
              <line x1={COLS[1][0]} x2={COLS[1][0] + TICK} y1={y} y2={y} />
              <line x1={COLS[3][1]} x2={COLS[3][1] - TICK} y1={y} y2={y} />
            </g>
          );
        })
      )}

      {/* y tick labels between first and second columns */}
      {yScales.map((ys, r) =>
        Y_TICKS.map((t) => (
          <text
            key={`yl${r}-${t}`}
            x={215}
            y={ys(t)}
            dy="0.36em"
            textAnchor="middle"
            fontSize={17}
            fill={INK}
          >
            {t}
          </text>
        ))
      )}

      {/* month labels */}
      {MONTHS.map((m, r) => (
        <text key={m} x={677} y={TOP + r * ROW_H + 28} textAnchor="end" fontSize={19.5} fill={INK}>
          {m}
        </text>
      ))}

      {/* x tick labels */}
      {xScales.map((xs, c) =>
        X_TICK_LABELS.map((t) => (
          <text key={`xl${c}-${t}`} x={xs(t)} y={1296} textAnchor="middle" fontSize={17} fill={INK}>
            {t}
          </text>
        ))
      )}

      {/* axis titles */}
      <text x={383} y={1322} textAnchor="middle" fontSize={24} fill={INK}>
        SST ( C)
      </text>
      <text
        transform="translate(39, 670) rotate(-90)"
        textAnchor="middle"
        fontSize={24}
        fill={INK}
      >
        log(CPUE Chinook + 1)
      </text>
    </svg>
  );
}
